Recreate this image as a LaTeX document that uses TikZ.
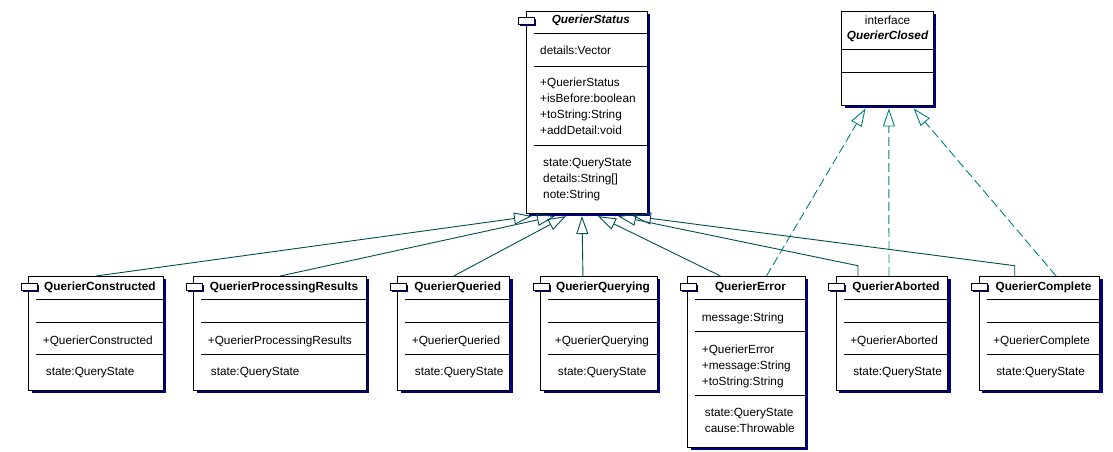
\documentclass[tikz,border=0pt]{standalone}
\usepackage{fontspec}
\setmainfont{Liberation Sans}
\usetikzlibrary{calc}
\usetikzlibrary{shadows}
\usetikzlibrary{arrows.meta}
\definecolor{umlnavy}{RGB}{0,0,128}
\definecolor{genline}{RGB}{0,77,77}
\definecolor{realline}{RGB}{0,128,128}

\begin{document}
\begin{tikzpicture}[x=1pt,y=-1pt,
	every node/.style={font=\fontsize{11.8}{16}\selectfont,inner sep=0pt},
	cls/.style={draw,line width=0.9pt,fill=white,anchor=north west,
		drop shadow={shadow xshift=3pt,shadow yshift=-3pt,fill=umlnavy,opacity=1}},
	tabicon/.style={draw,line width=0.9pt,fill=white,anchor=north west,minimum width=16,minimum height=7,
		drop shadow={shadow xshift=1.5pt,shadow yshift=-1.5pt,fill=umlnavy,opacity=1}},
	clsname/.style={font=\fontsize{11.8}{16}\selectfont\bfseries,anchor=base},
	txt/.style={anchor=base west},
	divider/.style={line width=0.9pt},
	inherit/.style={genline,line width=0.9pt,-{Triangle[open,length=18pt,width=12pt]}},
	realize/.style={realline,line width=0.9pt,dash pattern=on 9pt off 4pt,-{Triangle[open,length=18pt,width=12pt]}}]
	\useasboundingbox (0,0) rectangle (1113,451);
	% abstract superclass
	\node[cls,minimum width=120.7,minimum height=202] (Status) at (526,10.7) {};
	\node[tabicon] (Status-tab) at (518,17.2) {};
	\node[clsname] (Status-name) at ($(Status.north)+(4,12.6)$) {\itshape QuerierStatus};
	\foreach \d in {22.3,55.3,134.3}
		\draw[divider] ($(Status.north west)+(8,\d)$) -- ($(Status.north east)+(0,\d)$);
	\node[txt] (Status-attr) at ($(Status.north west)+(14,43.6)$) {details:Vector};
	\foreach \t [count=\i] in {+QuerierStatus,+isBefore:boolean,+toString:String,+addDetail:void}
		\node[txt] (Status-op\i) at ($(Status.north west)+(14,59.4+16*\i)$) {\t};
	\foreach \t [count=\i] in {state:QueryState,details:String[],note:String}
		\node[txt] (Status-prop\i) at ($(Status.north west)+(17,140+16*\i)$) {\t};
	% interface
	\node[cls,minimum width=91.7,minimum height=94.3] (Closed) at (841.3,10.7) {};
	\node[anchor=base] (Closed-kind) at ($(Closed.north)+(0,13.3)$) {interface};
	\node[clsname] (Closed-name) at ($(Closed.north)+(0,28.4)$) {\itshape QuerierClosed};
	\foreach \d in {38.3,61.3}
		\draw[divider] ($(Closed.north west)+(0,\d)$) -- ($(Closed.north east)+(0,\d)$);
	% subclasses
	\foreach \nm/\lx/\w in {Constructed/28.3/134.4,ProcessingResults/193.3/172.7,Queried/397.3/112,
		Querying/540.3/116.4,Aborted/835.7/111.6,Complete/978.7/120.6}{
		\node[cls,minimum width=\w,minimum height=114] (\nm) at (\lx,276) {};
		\node[tabicon] (\nm-tab) at (\lx-7.6,282.7) {};
		\node[clsname] (\nm-name) at ($(\nm.north)+(4,14)$) {Querier\nm};
		\foreach \d in {23.3,46,78.3}
			\draw[divider] ($(\nm.north west)+(8,\d)$) -- ($(\nm.north east)+(0,\d)$);
		\node[txt] (\nm-op) at ($(\nm.north west)+(14.4,68)$) {+Querier\nm};
		\node[txt] (\nm-prop) at ($(\nm.north west)+(17.4,99.7)$) {state:QueryState};
	}
	\node[cls,minimum width=117.4,minimum height=171] (Error) at (687.3,276) {};
	\node[tabicon] (Error-tab) at (679.7,282.7) {};
	\node[clsname] (Error-name) at ($(Error.north)+(4,14)$) {QuerierError};
	\foreach \d in {23.3,55,119.7}
		\draw[divider] ($(Error.north west)+(8,\d)$) -- ($(Error.north east)+(0,\d)$);
	\node[txt] (Error-attr) at ($(Error.north west)+(14.4,45)$) {message:String};
	\foreach \t [count=\i] in {+QuerierError,+message:String,+toString:String}
		\node[txt] (Error-op\i) at ($(Error.north west)+(14.4,61+16*\i)$) {\t};
	\foreach \t [count=\i] in {state:QueryState,cause:Throwable}
		\node[txt] (Error-prop\i) at ($(Error.north west)+(17.4,124.7+16*\i)$) {\t};
	% generalizations
	\draw[inherit] (Constructed.north) -- ($(Status.south west)+(6,2.5)$);
	\draw[inherit] (ProcessingResults.north) -- ($(Status.south west)+(29,2.5)$);
	\draw[inherit] (Queried.north) -- ($(Status.south west)+(40,2.5)$);
	\draw[inherit] ($(Querying.north)+(-16,0)$) -- ($(Status.south west)+(56,2.5)$);
	\draw[inherit] ($(Error.north)+(-26,0)$) -- ($(Status.south west)+(72,2.5)$);
	\draw[inherit] ($(Aborted.north)+(-34,0)$) -- ++(0,-10.3) -- ($(Status.south west)+(92,2.5)$);
	\draw[inherit] ($(Complete.north)+(-24.7,0)$) -- ++(0,-10.3) -- ($(Status.south west)+(107,2.5)$);
	% realizations
	\draw[realize] ($(Error.north)+(20,0)$) -- ($(Closed.south)+(-22,2.5)$);
	\draw[realize] ($(Aborted.north)+(-3,0)$) -- ($(Closed.south)+(1.3,2.5)$);
	\draw[realize] ($(Complete.north)+(16.7,0)$) -- ($(Closed.south)+(26,2.5)$);
\end{tikzpicture}
\end{document}
